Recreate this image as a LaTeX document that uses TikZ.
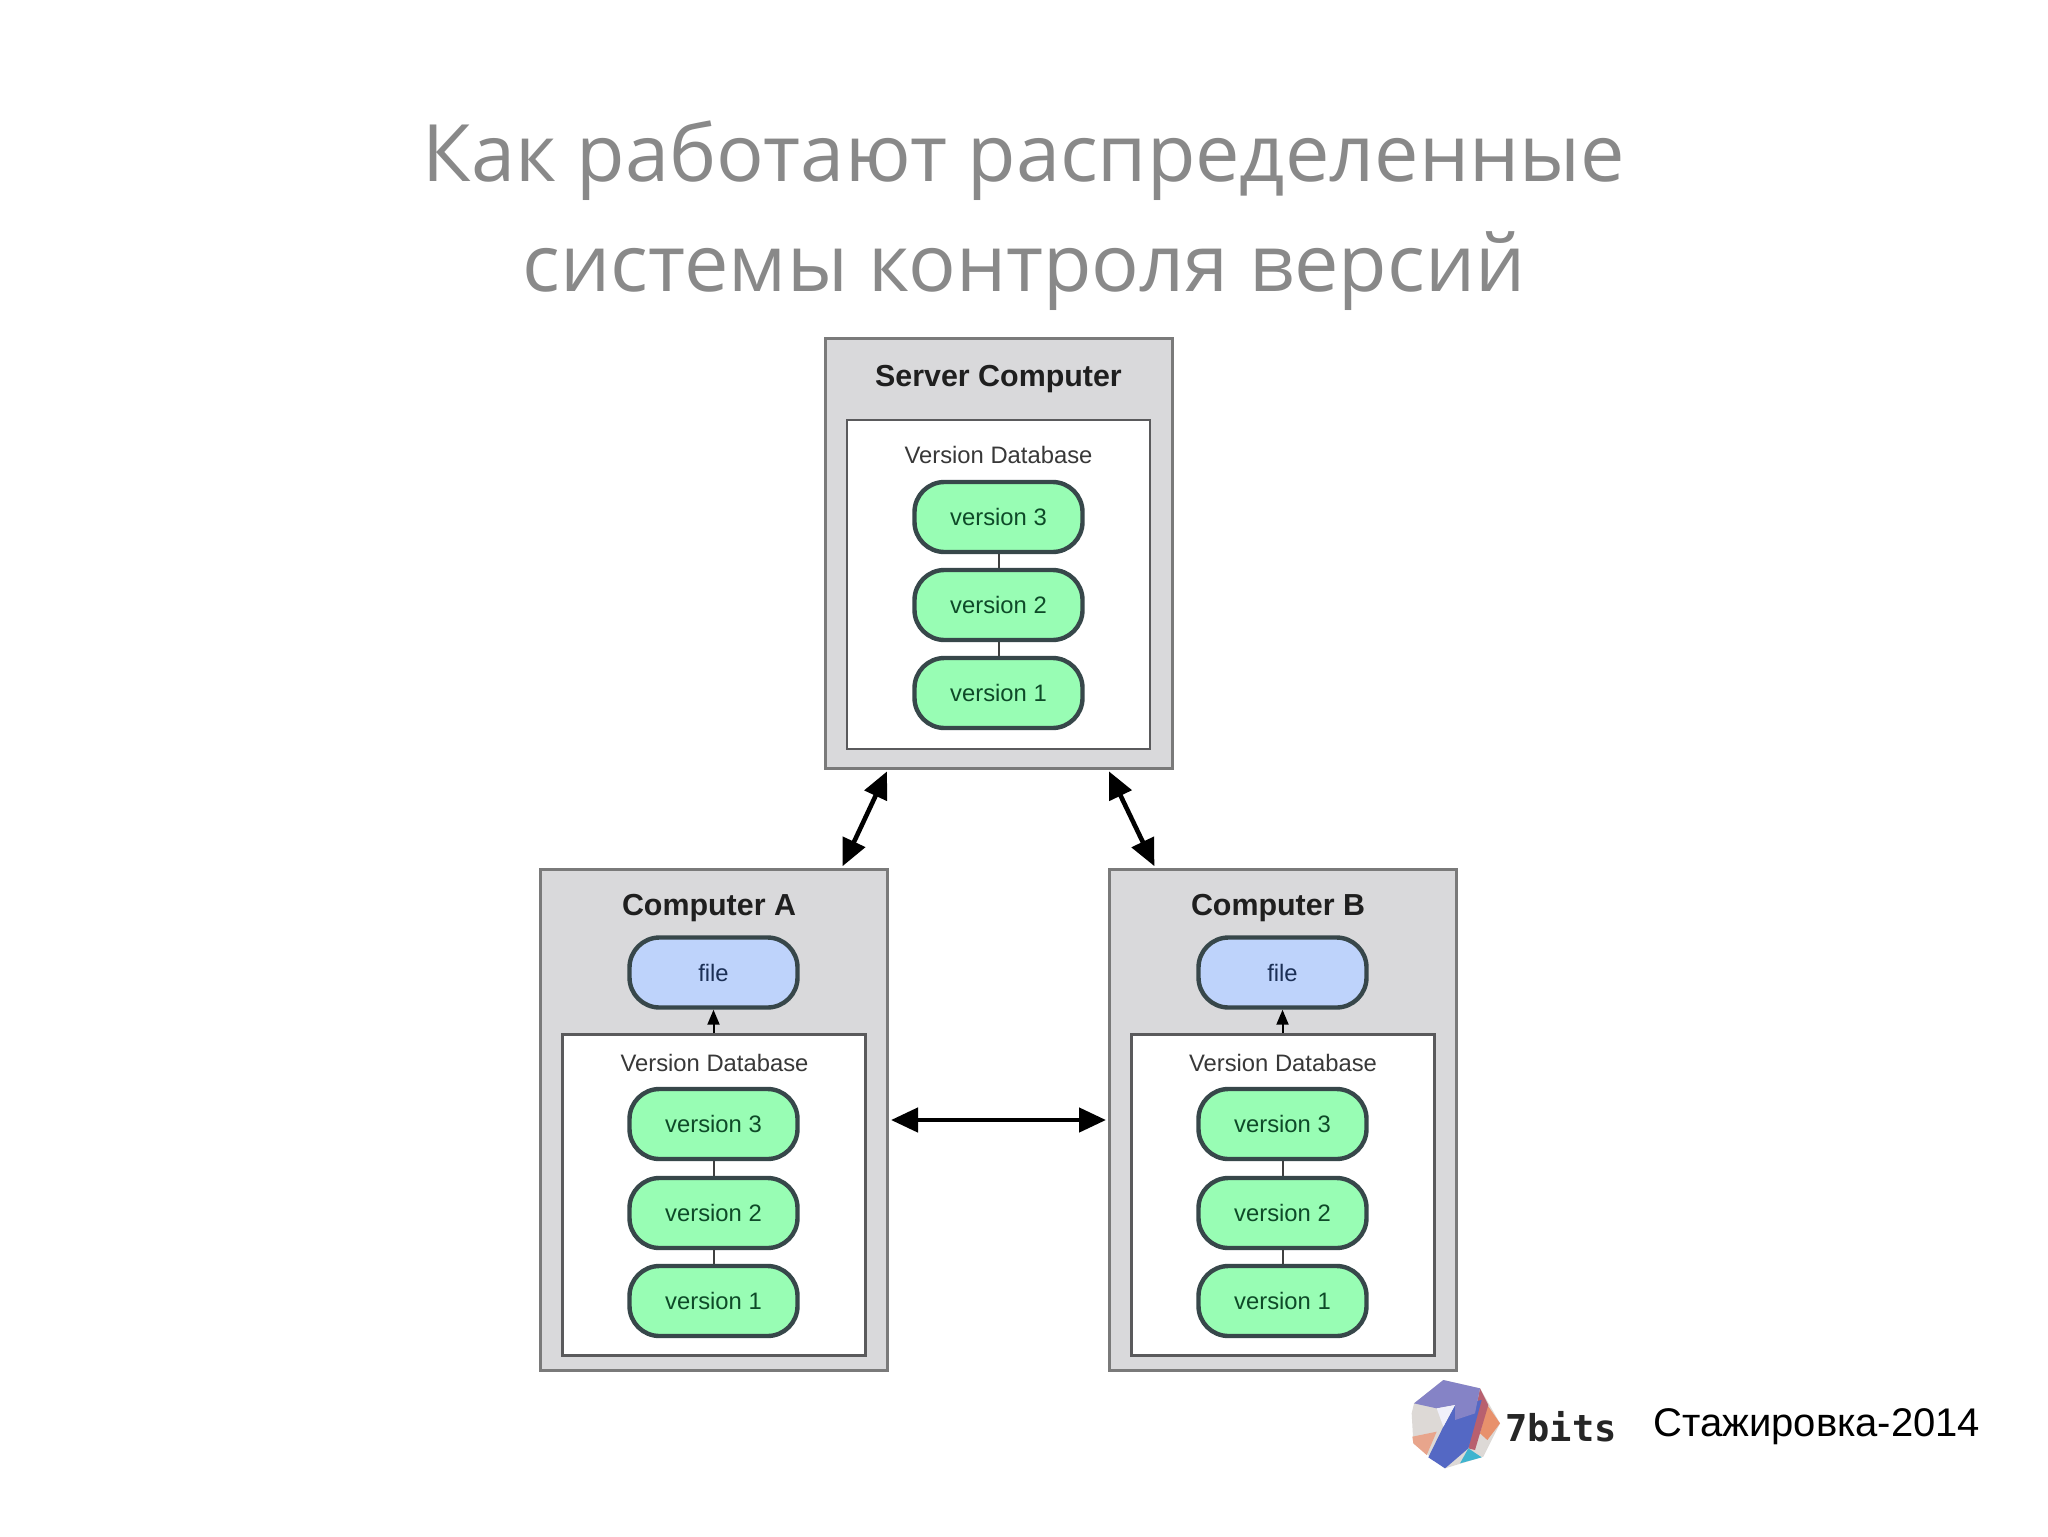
\documentclass[tikz,border=0pt]{standalone}
\usepackage{fontspec}
\setmainfont{Liberation Sans}
\newfontfamily\titlefont{Open Sans}
\newfontfamily\logofont{DejaVu Sans Mono}
\usetikzlibrary{arrows.meta,calc}
\definecolor{boxfill}{HTML}{D9D9DB}
\definecolor{boxline}{HTML}{7A7A7A}
\definecolor{innerline}{HTML}{5A5A5C}
\definecolor{pillgreen}{HTML}{98FDB4}
\definecolor{pillblue}{HTML}{BED3FB}
\definecolor{pillline}{HTML}{37474A}
\definecolor{greentext}{HTML}{0E4A28}
\definecolor{bluetext}{HTML}{1B2F55}
\definecolor{titlegrey}{HTML}{898989}
\definecolor{logopale}{HTML}{DDD9D6}
\definecolor{logosalmon}{HTML}{E8A58C}
\definecolor{logoorange}{HTML}{E8916C}
\definecolor{logored}{HTML}{B8606F}
\definecolor{logoviolet}{HTML}{8583C6}
\definecolor{logoblue}{HTML}{5468C4}
\definecolor{logocyan}{HTML}{3FB4CF}
\definecolor{logowhite}{HTML}{F0F0FA}
\tikzset{
  outerbox/.style={draw=boxline,fill=boxfill,line width=1.5pt,minimum width=173.5pt,inner sep=0pt},
  innerbox/.style={draw=innerline,fill=white,line width=1.2pt,minimum width=151.5pt,inner sep=0pt},
  pillbase/.style={line width=2.2pt,rounded corners=15pt,minimum width=84pt,minimum height=35pt,inner sep=0pt},
  verpill/.style={pillbase,draw=pillline,fill=pillgreen,text=greentext,font=\fontsize{11.9pt}{14pt}\selectfont},
  filepill/.style={pillbase,draw=pillline,fill=pillblue,text=bluetext,font=\fontsize{11.9pt}{14pt}\selectfont},
  boxtitle/.style={font=\fontsize{15.2pt}{18pt}\selectfont\bfseries,text=black!88,inner sep=0pt},
  dbtitle/.style={font=\fontsize{11.9pt}{14pt}\selectfont,text=black!78,inner sep=0pt},
  slidetitle/.style={font=\fontsize{39.6pt}{44pt}\titlefont,text=titlegrey,inner sep=0pt,anchor=base},
  linkline/.style={draw=black!75,line width=1pt},
  smallarrow/.style={draw=black,line width=1pt,-{Triangle[length=7.5pt,width=6pt]}},
  bigarrow/.style={draw=black,line width=2.3pt,{Triangle[length=13.5pt,width=12pt]}-{Triangle[length=13.5pt,width=12pt]}}
}
\begin{document}
\begin{tikzpicture}[x=0.5pt,y=-0.5pt]
\useasboundingbox (0,0) rectangle (2048,1536);
\fill[white] (0,0) rectangle (2048,1536);
% title
\node[slidetitle] (title1) at (1024,181) {Как работают распределенные};
\node[slidetitle] (title2) at (1024,291) {системы контроля версий};
% server
\node[outerbox,minimum height=215pt] (server) at (998.5,553) {};
\node[innerbox,minimum height=164.5pt] (dbS) at (998.5,584.5) {};
\node[boxtitle] (serverT) at (998.5,379) {Server Computer};
\node[dbtitle] (dbSt) at (998.5,455) {Version Database};
\node[verpill] (s3) at (998.5,517) {version 3};
\node[verpill] (s2) at (998.5,605) {version 2};
\node[verpill] (s1) at (998.5,693) {version 1};
\draw[linkline] (s3) -- (s2);
\draw[linkline] (s2) -- (s1);
% computer A
\node[outerbox,minimum height=250.5pt] (compA) at (714,1120) {};
\node[innerbox,minimum height=160.5pt] (dbA) at (714,1195) {};
\node[boxtitle] (compAt) at (709,908) {Computer A};
\node[filepill] (fileA) at (713.5,972.5) {file};
\node[dbtitle] (dbAt) at (714.5,1063) {Version Database};
\node[verpill] (a3) at (713.5,1124) {version 3};
\node[verpill] (a2) at (713.5,1213) {version 2};
\node[verpill] (a1) at (713.5,1301) {version 1};
\draw[linkline] (a3) -- (a2);
\draw[linkline] (a2) -- (a1);
\draw[smallarrow] (dbA.north -| fileA.south) -- (fileA.south);
% computer B
\node[outerbox,minimum height=250.5pt] (compB) at (1283,1120) {};
\node[innerbox,minimum height=160.5pt] (dbB) at (1283,1195) {};
\node[boxtitle] (compBt) at (1278,908) {Computer B};
\node[filepill] (fileB) at (1282.5,972.5) {file};
\node[dbtitle] (dbBt) at (1283,1063) {Version Database};
\node[verpill] (b3) at (1282.5,1124) {version 3};
\node[verpill] (b2) at (1282.5,1213) {version 2};
\node[verpill] (b1) at (1282.5,1301) {version 1};
\draw[linkline] (b3) -- (b2);
\draw[linkline] (b2) -- (b1);
\draw[smallarrow] (dbB.north -| fileB.south) -- (fileB.south);
% big arrows
\draw[bigarrow,shorten <=1pt,shorten >=1pt] ($(compA.north west)!0.865!(compA.north east)$) -- ($(server.south west)!0.184!(server.south east)$);
\draw[bigarrow,shorten <=1pt,shorten >=1pt] ($(server.south west)!0.813!(server.south east)$) -- ($(compB.north west)!0.135!(compB.north east)$);
\draw[bigarrow,shorten <=1pt,shorten >=1pt] (compA.east) -- (compB.west);
% logo
\begin{scope}[shift={(1400,1370)},x=0.16667pt,y=-0.16667pt]
\fill[logopale] (130,30) -- (240,55) -- (300,160) -- (250,260) -- (135,295) -- (40,220) -- (35,130) -- (42,100) -- cycle;
\fill[logosalmon] (37,200) -- (110,185) -- (80,255) -- (40,220) -- cycle;
\fill[logoorange] (262,105) -- (300,160) -- (262,210) -- (240,190) -- cycle;
\fill[logored] (240,55) -- (265,105) -- (225,240) -- (205,235) -- cycle;
\fill[logoblue] (165,105) -- (245,90) -- (205,235) -- (135,295) -- (85,262) -- (130,170) -- cycle;
\fill[logoviolet] (42,100) -- (130,30) -- (240,55) -- (225,130) -- (165,150) -- (165,105) -- (110,115) -- cycle;
\fill[logocyan] (205,235) -- (245,262) -- (180,280) -- cycle;
\fill[logowhite] (110,115) -- (165,105) -- (130,170) -- cycle;
\end{scope}
\node[font=\fontsize{18.5pt}{20pt}\logofont\bfseries,text=black!85,inner sep=0pt,anchor=base west] (logoT) at (1505,1441) {7bits};
\node[font=\fontsize{20pt}{22pt}\selectfont,text=black,inner sep=0pt,anchor=base west] (intern) at (1653,1436) {Стажировка-2014};
\end{tikzpicture}
\end{document}
